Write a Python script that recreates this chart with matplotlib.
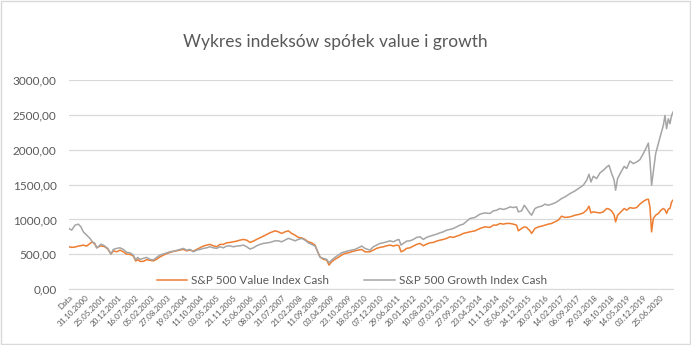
import matplotlib
matplotlib.use("Agg")
import matplotlib.pyplot as plt
import numpy as np

plt.rcParams['font.family'] = ['Lato', 'DejaVu Sans']

# row number in the sheet (trading days), value index, growth index
rows = [0, 23, 52, 80, 103, 123, 152, 180, 200, 223, 238, 252, 275, 304, 332, 361, 381, 410, 438, 467,
        495, 524, 553, 573, 590, 610, 639, 667, 696, 725, 753, 782, 825, 868, 911, 954, 982, 1011, 1040, 1068,
        1097, 1126, 1154, 1183, 1211, 1240, 1269, 1297, 1326, 1355, 1383, 1412, 1441, 1469, 1498, 1527, 1555, 1584, 1612, 1641,
        1670, 1727, 1770, 1799, 1827, 1856, 1885, 1913, 1942, 1970, 1999, 2028, 2056, 2085, 2114, 2137, 2157, 2185, 2214, 2234,
        2257, 2285, 2314, 2343, 2371, 2400, 2429, 2457, 2486, 2515, 2543, 2586, 2615, 2643, 2672, 2701, 2729, 2758, 2787, 2815,
        2835, 2853, 2873, 2901, 2930, 2959, 2987, 3016, 3044, 3073, 3102, 3130, 3159, 3188, 3216, 3245, 3274, 3302, 3331, 3359,
        3388, 3445, 3488, 3531, 3574, 3617, 3646, 3675, 3703, 3732, 3760, 3789, 3818, 3846, 3861, 3889, 3912, 3932, 3961, 3975,
        4004, 4033, 4061, 4090, 4118, 4147, 4176, 4204, 4233, 4262, 4305, 4348, 4391, 4419, 4448, 4468, 4485, 4505, 4534, 4562,
        4591, 4620, 4640, 4663, 4683, 4697, 4714, 4743, 4771, 4792, 4820, 4849, 4877, 4906, 4935, 4963, 4978, 4992, 5006, 5021,
        5041, 5064, 5087, 5107, 5121, 5135, 5150, 5164, 5178, 5190]

value_idx = [609, 600, 605, 619, 625, 633, 619, 657, 680, 643, 600, 609, 620, 612, 580, 504, 551, 537, 561, 537,
             504, 500, 476, 404, 425, 400, 400, 425, 415, 406, 430, 465, 500, 529, 547, 561, 571, 551, 561, 547,
             571, 594, 619, 633, 643, 623, 609, 643, 643, 666, 671, 680, 690, 704, 714, 704, 671, 690, 714, 737,
             761, 809, 837, 823, 800, 823, 837, 800, 776, 743, 737, 714, 680, 666, 633, 537, 466, 429, 419, 347,
             394, 429, 457, 490, 514, 523, 537, 551, 561, 571, 537, 537, 561, 586, 600, 609, 623, 633, 619, 633,
             625, 537, 551, 586, 594, 619, 643, 657, 623, 647, 666, 671, 690, 704, 714, 729, 752, 743, 761, 776,
             800, 823, 837, 871, 894, 886, 919, 919, 943, 933, 943, 943, 933, 919, 837, 871, 894, 886, 837, 800,
             871, 894, 904, 919, 933, 943, 966, 990, 1047, 1029, 1037, 1061, 1076, 1094, 1133, 1190, 1094, 1109, 1100, 1094,
             1109, 1157, 1150, 1120, 1070, 966, 1061, 1109, 1157, 1133, 1170, 1160, 1170, 1220, 1260, 1286, 1290, 1180, 823, 1014,
             1061, 1086, 1133, 1157, 1140, 1086, 1150, 1157, 1251, 1276]

growth_idx = [871, 847, 919, 933, 894, 823, 776, 729, 680, 657, 590, 609, 647, 623, 586, 504, 571, 586, 594, 571,
              529, 523, 490, 419, 457, 429, 443, 457, 429, 419, 457, 490, 514, 537, 551, 571, 586, 561, 571, 537,
              561, 571, 586, 594, 609, 594, 586, 609, 594, 619, 623, 609, 619, 623, 633, 609, 576, 594, 623, 643,
              657, 671, 694, 694, 680, 704, 729, 714, 694, 714, 729, 704, 666, 643, 619, 537, 457, 443, 429, 380,
              419, 457, 490, 523, 537, 551, 561, 571, 594, 619, 586, 561, 609, 633, 657, 666, 680, 694, 680, 704,
              714, 633, 657, 690, 694, 714, 743, 752, 714, 743, 761, 776, 790, 809, 823, 847, 857, 871, 894, 919,
              933, 1014, 1029, 1076, 1094, 1086, 1123, 1133, 1157, 1143, 1157, 1180, 1171, 1180, 1109, 1123, 1204, 1157, 1086, 1061,
              1157, 1180, 1190, 1219, 1204, 1219, 1237, 1266, 1300, 1323, 1371, 1409, 1457, 1490, 1561, 1647, 1537, 1619, 1586, 1666,
              1704, 1751, 1776, 1657, 1571, 1419, 1586, 1680, 1761, 1729, 1837, 1800, 1823, 1857, 1943, 2037, 2094, 1847, 1490, 1680,
              1943, 2086, 2229, 2347, 2490, 2300, 2443, 2371, 2490, 2537]

tick_labels = ['Data', '31.10.2000', '25.05.2001', '20.12.2001', '16.07.2002', '05.02.2003', '27.08.2003',
               '19.03.2004', '11.10.2004', '03.05.2005', '21.11.2005', '15.06.2006', '08.01.2007', '31.07.2007',
               '21.02.2008', '11.09.2008', '03.04.2009', '23.10.2009', '18.05.2010', '07.12.2010', '29.06.2011',
               '20.01.2012', '10.08.2012', '07.03.2013', '27.09.2013', '23.04.2014', '11.11.2014', '05.06.2015',
               '24.12.2015', '20.07.2016', '14.02.2017', '06.09.2017', '29.03.2018', '18.10.2018', '14.05.2019',
               '03.12.2019', '25.06.2020']
label_step = 141  # rows between labels
y_ticks = [0, 500, 1000, 1500, 2000, 2500, 3000]

ORANGE = '#ED7D31'
GRAY = '#A5A5A5'
TEXT = '#595959'

fig = plt.figure(figsize=(6.91, 3.45), dpi=100)
ax = fig.add_axes([69 / 691, 55.7 / 345, 604 / 691, 209.5 / 345])

ax.plot(rows, value_idx, color=ORANGE, lw=1.1, label='S&P 500 Value Index Cash')
ax.plot(rows, growth_idx, color=GRAY, lw=1.1, label='S&P 500 Growth Index Cash')

ax.set_xlim(0, rows[-1])
ax.set_ylim(0, 3000)
ax.set_yticks(y_ticks)
ax.set_yticklabels([f'{v},00' for v in y_ticks])
ax.set_xticks(np.arange(len(tick_labels)) * label_step)
ax.set_xticklabels(tick_labels, rotation=45, ha='right', rotation_mode='anchor')

ax.grid(axis='y', color='#D9D9D9', lw=0.9)
ax.set_axisbelow(True)
for s in ['top', 'right', 'left']:
    ax.spines[s].set_visible(False)
ax.spines['bottom'].set_color('#D9D9D9')
ax.tick_params(axis='y', length=0, pad=9, labelsize=8.5, labelcolor=TEXT)
ax.tick_params(axis='x', length=0, pad=3, labelsize=5.8, labelcolor=TEXT)

fig.text(0.485, 1 - 42 / 345, 'Wykres indeksów spółek value i growth', ha='center', va='center',
         fontsize=12.5, color=TEXT)

fig.legend(loc='center', bbox_to_anchor=(0.509, 1 - 281 / 345), ncol=2, frameon=False,
           fontsize=8.5, labelcolor=TEXT, handlelength=2.6, columnspacing=3.0, handletextpad=0.3)

# chart border
fig.patches.append(plt.Rectangle((0.001, 0.002), 0.997, 0.995, transform=fig.transFigure,
                                 fill=False, edgecolor='#D9D9D9', lw=1))

fig.savefig('out.png', dpi=100)
